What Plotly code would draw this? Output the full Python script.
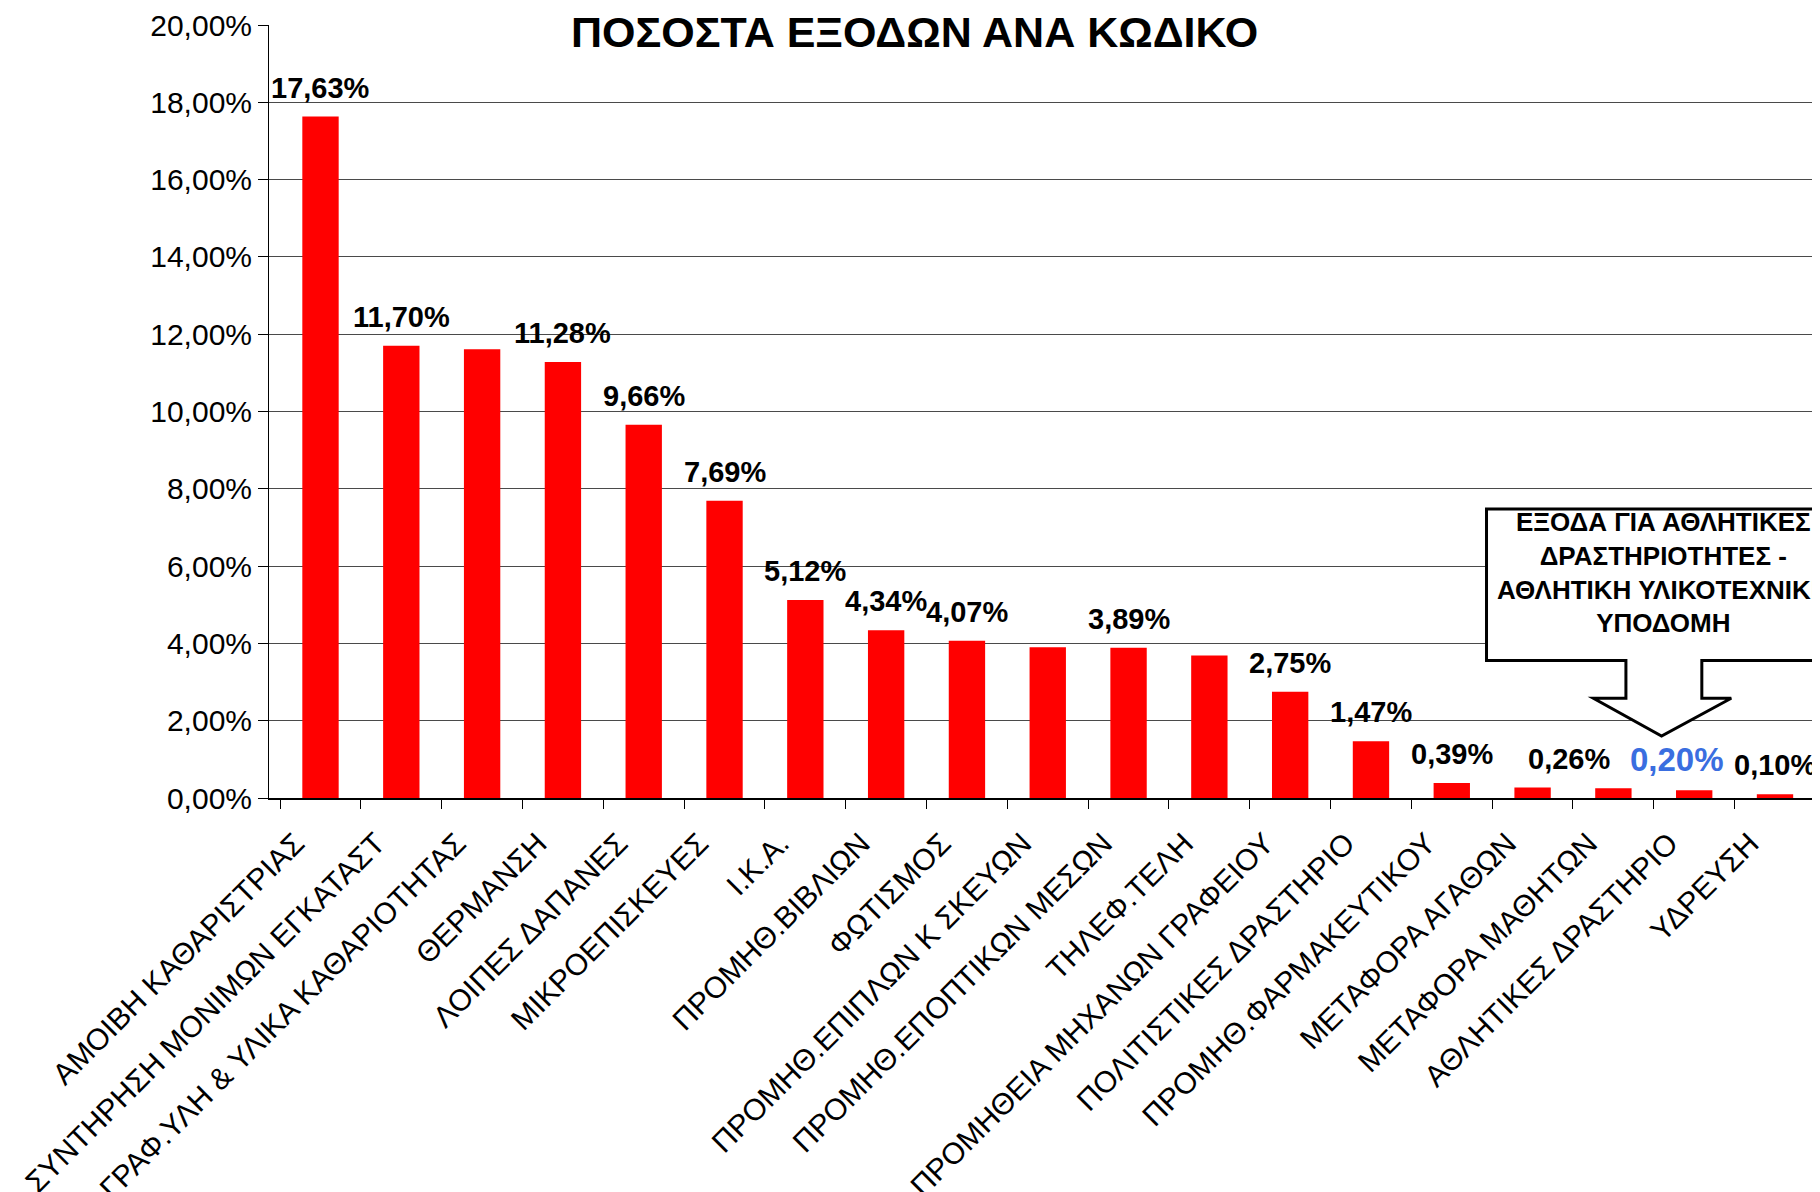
import plotly.graph_objects as go

categories = [
    "ΑΜΟΙΒΗ ΚΑΘΑΡΙΣΤΡΙΑΣ",
    "ΣΥΝΤΗΡΗΣΗ ΜΟΝΙΜΩΝ ΕΓΚΑΤΑΣΤ",
    "ΓΡΑΦ.ΥΛΗ & ΥΛΙΚΑ ΚΑΘΑΡΙΟΤΗΤΑΣ",
    "ΘΕΡΜΑΝΣΗ",
    "ΛΟΙΠΕΣ ΔΑΠΑΝΕΣ",
    "ΜΙΚΡΟΕΠΙΣΚΕΥΕΣ",
    "Ι.Κ.Α.",
    "ΠΡΟΜΗΘ.ΒΙΒΛΙΩΝ",
    "ΦΩΤΙΣΜΟΣ",
    "ΠΡΟΜΗΘ.ΕΠΙΠΛΩΝ Κ ΣΚΕΥΩΝ",
    "ΠΡΟΜΗΘ.ΕΠΟΠΤΙΚΩΝ ΜΕΣΩΝ",
    "ΤΗΛΕΦ.ΤΕΛΗ",
    "ΠΡΟΜΗΘΕΙΑ ΜΗΧΑΝΩΝ ΓΡΑΦΕΙΟΥ",
    "ΠΟΛΙΤΙΣΤΙΚΕΣ ΔΡΑΣΤΗΡΙΟ",
    "ΠΡΟΜΗΘ.ΦΑΡΜΑΚΕΥΤΙΚΟΥ",
    "ΜΕΤΑΦΟΡΑ ΑΓΑΘΩΝ",
    "ΜΕΤΑΦΟΡΑ ΜΑΘΗΤΩΝ",
    "ΑΘΛΗΤΙΚΕΣ ΔΡΑΣΤΗΡΙΟ",
    "ΥΔΡΕΥΣΗ",
]
values = [17.63, 11.70, 11.61, 11.28, 9.66, 7.69, 5.12, 4.34, 4.07, 3.90,
          3.89, 3.69, 2.75, 1.47, 0.39, 0.27, 0.25, 0.20, 0.10]
# which bars carry a visible value label (and the text shown)
labelled = [True, True, False, True, True, True, True, True, True, False,
            True, False, True, True, True, True, False, True, True]
label_values = [17.63, 11.70, None, 11.28, 9.66, 7.69, 5.12, 4.34, 4.07, None,
                3.89, None, 2.75, 1.47, 0.39, 0.26, None, 0.20, 0.10]
highlight_index = 17  # sports expenses bar (blue label)

y_ticks = [0, 2, 4, 6, 8, 10, 12, 14, 16, 18, 20]
y_tick_text = ["0,00%", "2,00%", "4,00%", "6,00%", "8,00%", "10,00%",
               "12,00%", "14,00%", "16,00%", "18,00%", "20,00%"]

title_text = "ΠΟΣΟΣΤΑ ΕΞΟΔΩΝ ΑΝΑ ΚΩΔΙΚΟ"
callout_text = ("ΕΞΟΔΑ ΓΙΑ ΑΘΛΗΤΙΚΕΣ<br>ΔΡΑΣΤΗΡΙΟΤΗΤΕΣ -<br>"
                "ΑΘΛΗΤΙΚΗ ΥΛΙΚΟΤΕΧΝΙΚΗ<br>ΥΠΟΔΟΜΗ")

FONT = "Arial, 'Liberation Sans', sans-serif"

def fmt(v):
    return f"{v:.2f}".replace(".", ",") + "%"

fig = go.Figure()
fig.add_trace(go.Bar(
    x=categories, y=values,
    marker=dict(color="#FF0000", line=dict(width=0)),
    hoverinfo="skip",
))

annotations = []
for i, (c, v, show, lv) in enumerate(zip(categories, values, labelled, label_values)):
    if not show:
        continue
    if i == highlight_index:
        annotations.append(dict(
            x=c, y=v, xref="x", yref="y", text=f"<b>{fmt(lv)}</b>", showarrow=False,
            yanchor="bottom", yshift=10, xshift=-17,
            font=dict(family=FONT, size=33, color="#3A6EE0")))
    else:
        xs = 36 if i == 15 else 0
        annotations.append(dict(
            x=c, y=v, xref="x", yref="y", text=f"<b>{fmt(lv)}</b>",
            showarrow=False, yanchor="bottom", yshift=11, xshift=xs,
            font=dict(family=FONT, size=29, color="black")))

# title
annotations.append(dict(
    x=0.4166, y=1.0, xref="paper", yref="paper", text=f"<b>{title_text}</b>",
    showarrow=False, xanchor="center", yanchor="middle", yshift=-7,
    font=dict(family=FONT, size=43, color="black")))

# callout text
annotations.append(dict(
    x=0.900, y=0.292, xref="paper", yref="paper", text=f"<b>{callout_text}</b>",
    showarrow=False, xanchor="center", yanchor="middle", align="center",
    font=dict(family=FONT, size=26, color="black")))

# callout box with downward arrow (paper coords)
x0, xr = 0.786, 1.02
top, bot = 0.374, 0.178
s0, s1 = 0.876, 0.925
hy = 0.129
h0, h1 = 0.855, 0.944
tipx, tipy = 0.899, 0.080
path = (f"M {x0},{top} L {xr},{top} L {xr},{bot} L {s1},{bot} L {s1},{hy} "
        f"L {h1},{hy} L {tipx},{tipy} L {h0},{hy} L {s0},{hy} L {s0},{bot} "
        f"L {x0},{bot} Z")
shapes = [dict(type="path", path=path, xref="paper", yref="paper",
               fillcolor="white", line=dict(color="black", width=3), layer="above")]

fig.update_layout(
    width=1812, height=1184,
    margin=dict(l=261, r=2, t=17, b=394),
    paper_bgcolor="white", plot_bgcolor="white",
    showlegend=False, bargap=0.55,
    font=dict(family=FONT, color="black"),
    annotations=annotations, shapes=shapes,
    xaxis=dict(
        type="category", tickangle=-45, tickson="boundaries",
        ticks="outside", ticklen=9, tickcolor="black",
        showline=True, linecolor="black", linewidth=1.5,
        showgrid=False, tickfont=dict(family=FONT, size=30, color="black"),
        ticklabelstandoff=14, ticklabelshift=-25,
        automargin=False,
    ),
    yaxis=dict(
        range=[0, 20], tickvals=y_ticks, ticktext=y_tick_text,
        ticks="outside", ticklen=10, tickcolor="black",
        showline=True, linecolor="black", linewidth=1,
        showgrid=True, gridcolor="#4a4a4a", gridwidth=1.3,
        zeroline=False, tickfont=dict(family=FONT, size=30, color="black"),
        automargin=False,
    ),
)

fig.write_html("out.html")
